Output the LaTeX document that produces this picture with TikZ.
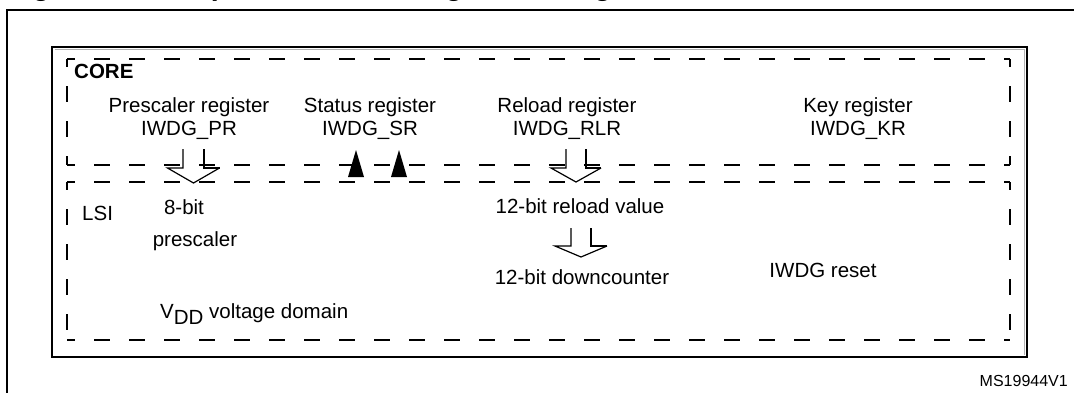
\documentclass[tikz,border=0pt]{standalone}
\usepackage{fontspec}
\setmainfont{Liberation Sans}
\newcommand\hollowarr[6]{%
  \draw[thinl] (#1-#5,#2) -- (#1-#5,#3) -- (#1-#6,#3) -- (#1,#4) -- (#1+#6,#3);
  \draw[thickl] (#1+#6,#3) -- (#1+#5,#3) -- (#1+#5,#2);}
\begin{document}
\begin{tikzpicture}[x=1pt,y=-1pt,
  txt/.style={font=\fontsize{20.5}{23}\selectfont, inner sep=0pt, align=center},
  frame/.style={line width=2.5pt},
  dsh/.style={line width=2pt, dash pattern=on 16pt off 19pt, dash phase=8pt},
  thinl/.style={line width=1.2pt, line join=miter},
  thickl/.style={line width=2.5pt}]
\useasboundingbox (0,0) rectangle (1074,392);
\clip (0,0) rectangle (1074,392);
\fill[white] (0,0) rectangle (1074,392);
% title (cut off at the top)
\node[anchor=base west, inner sep=0pt, font=\bfseries\fontsize{28.5}{31}\selectfont] (title) at (7,-5) {Figure 55. Independent watchdog block diagram};
% frames
\draw[frame] (7,10) rectangle (1200,500);
\draw[frame] (52,47) rectangle (1027,357);
\draw[gray!60, line width=0.8pt] (54.5,49.5) -- (1024.5,49.5) -- (1024.5,354.5);
% dashed CORE box
\coordinate (c1) at (67,59); \coordinate (c2) at (1010,59);
\coordinate (c3) at (1010,165); \coordinate (c4) at (67,165);
\draw[dsh] (c1) -- (c2); \draw[dsh] (c2) -- (c3);
\draw[dsh] (c4) -- (c3); \draw[dsh] (c1) -- (c4);
% dashed LSI box
\coordinate (d1) at (67,182); \coordinate (d2) at (1010,182);
\coordinate (d3) at (1010,340); \coordinate (d4) at (67,340);
\draw[dsh] (d1) -- (d2); \draw[dsh] (d2) -- (d3);
\draw[dsh] (d4) -- (d3); \draw[dsh] (d1) -- (d4);
% texts
\node[txt, font=\bfseries\fontsize{20.5}{23}\selectfont, anchor=west] (core) at (74,71) {CORE};
\node[txt] (pr) at (189,119) {Prescaler register\\IWDG\_PR};
\node[txt] (sr) at (370,119) {Status register\\IWDG\_SR};
\node[txt] (rlr) at (567,119) {Reload register\\IWDG\_RLR};
\node[txt] (kr) at (858,119) {Key register\\IWDG\_KR};
\node[txt, anchor=west] (lsi) at (82,213) {LSI};
\node[txt] (eight) at (184,207) {8-bit};
\node[txt] (presc) at (195,241) {prescaler};
\node[txt] (rv) at (580,206) {12-bit reload value};
\node[txt] (dc) at (582,277) {12-bit downcounter};
\node[txt] (rst) at (823,270) {IWDG reset};
\node[txt, anchor=base west] (vdd) at (160,318) {V\raisebox{-6pt}{DD} voltage domain};
\node[anchor=base east, inner sep=0pt, font=\fontsize{16}{18}\selectfont] (ms) at (1068,386) {MS19944V1};
% hollow arrows
\hollowarr{193.5}{149}{168}{183}{10.5}{26}
\hollowarr{576}{149}{168}{182}{10}{25}
\hollowarr{581}{228}{246}{257}{10}{26}
% status triangles
\fill (356,150) -- (364,177) -- (348,177) -- cycle;
\fill (399,150) -- (407,177) -- (391,177) -- cycle;
\end{tikzpicture}
\end{document}
